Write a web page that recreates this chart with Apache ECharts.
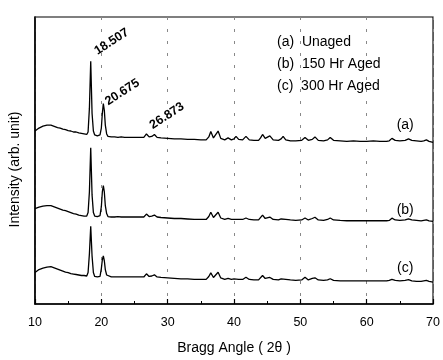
<!DOCTYPE html>
<html><head><meta charset="utf-8">
<script src="https://cdn.jsdelivr.net/npm/echarts@6/dist/echarts.min.js"></script>
<style>html,body{margin:0;padding:0;background:#fff}#c{width:443px;height:360px}</style>
</head><body><div id="c"></div>
<script>
// Intensity (arb. unit): [2θ, intensity]
const unaged = [[10,176],[10.3,177.5],[10.6,179],[10.9,179.5],[11.2,181],[11.5,181.5],[11.8,182],[12.1,181.5],[12.4,182],[12.7,181],[13.0,180.5],[13.4,179.5],[13.8,179],[14.2,178],[14.6,177.5],[15.0,176.5],[15.4,176],[15.8,175],[16.2,175],[16.6,174],[17.0,173.5],[17.4,173],[17.8,172.5],[18.0,175],[18.2,199],[18.4,247],[18.6,194],[18.8,176],[19.0,172],[19.4,171],[19.8,172],[20.0,179],[20.15,194],[20.3,204],[20.45,197],[20.6,182],[20.8,173],[21.0,170.5],[21.5,170],[22,170],[22.5,169.5],[23,170],[23.5,169.5],[24,169.5],[24.5,169.5],[25,169.5],[25.5,169.5],[26,169.5],[26.4,169.5],[26.8,173],[27.2,170],[27.6,170.5],[28.0,172.5],[28.4,169.5],[29,169],[30,168.5],[31,168],[32,168],[33,167.5],[34,167.5],[35,167],[35.8,167],[36.2,170],[36.5,175.5],[36.9,169],[37.2,170],[37.6,176],[38.0,168.5],[38.6,167],[39.1,169],[39.6,167],[40.0,168],[40.3,170.5],[40.7,167.5],[41.3,167],[41.8,170.5],[42.3,167],[43,166.5],[43.7,166.5],[44.0,169],[44.3,172.5],[44.7,168.5],[45.0,169],[45.4,171],[45.9,167],[46.7,166.5],[47.1,168],[47.4,170.5],[47.8,167],[48.5,166],[49.3,166],[50.2,166.5],[50.7,169.5],[51.2,166.5],[51.8,167.5],[52.2,170],[52.7,166.5],[53.5,166],[54.1,167],[54.5,169.5],[55.0,166.5],[56,166],[57,165.5],[58,166],[59,165.5],[60,165.5],[61,166],[62,165.5],[63,165.5],[63.4,166],[63.8,168.5],[64.3,166.5],[65,166],[65.8,166.5],[66.3,168],[66.8,166.5],[67.5,166],[68.2,165.5],[68.6,166],[69.0,167],[69.4,165.5],[70,164.5]];
const aged150 = [[10,97],[10.3,98],[10.6,98.5],[10.9,99],[11.2,99.5],[11.5,100],[11.8,100],[12.1,99.5],[12.4,100],[12.7,99],[13.0,98.5],[13.4,97.5],[13.8,96.5],[14.2,95.5],[14.6,95],[15.0,94],[15.4,93],[15.8,92],[16.2,91.5],[16.6,90.5],[17.0,90],[17.4,89.5],[17.8,89.5],[18.0,93],[18.2,114],[18.4,159],[18.6,111],[18.8,93],[19.0,89.5],[19.4,89],[19.8,90],[20.0,99],[20.15,114],[20.3,120.5],[20.45,114],[20.6,100],[20.8,92],[21.0,89],[21.5,88.5],[22,88.5],[22.5,89],[23,88.5],[23.5,88.5],[24,88.5],[24.5,88.5],[25,88.5],[25.5,88.5],[26,88.5],[26.4,88.5],[26.8,91.5],[27.2,89],[27.6,89.5],[28.0,90.5],[28.4,88.5],[29,88],[30,87.5],[31,87],[32,87],[33,86.5],[34,86],[35,86],[35.8,86],[36.2,89],[36.5,93.3],[36.9,88],[37.2,89],[37.6,93.3],[38.0,87.5],[38.6,86],[39.1,87],[39.6,86],[40.0,86],[40.3,87.5],[40.7,86],[41.3,86],[41.8,87.5],[42.3,86],[43,85.5],[43.7,85.5],[44.0,87.5],[44.3,90.5],[44.7,87],[45.0,87.5],[45.4,88.5],[45.9,86],[46.7,85.5],[47.1,86.5],[47.4,87.5],[47.8,86],[48.5,85.5],[49.3,85],[50.2,85.5],[50.7,87.5],[51.2,85.5],[51.8,87],[52.2,88.3],[52.7,85.5],[53.5,85],[54.1,86],[54.5,87.5],[55.0,85.5],[56,85],[57,84.7],[58,84.7],[59,84.7],[60,84.7],[61,84.7],[62,84.7],[63,84.7],[63.4,85],[63.8,87.3],[64.3,85.5],[65,85],[65.8,85.5],[66.3,86.5],[66.8,85.5],[67.5,85],[68.2,84.5],[68.6,85],[69.0,85.5],[69.4,84.5],[70,84]];
const aged300 = [[10,32],[10.3,33.5],[10.6,35],[10.9,36],[11.2,36.5],[11.5,37],[11.8,37.5],[12.1,37.5],[12.4,38],[12.7,37],[13.0,36.5],[13.4,35.5],[13.8,34.5],[14.2,33.5],[14.6,32.5],[15.0,32],[15.4,31],[15.8,30.5],[16.2,30],[16.6,29.5],[17.0,29],[17.4,29],[17.8,28.5],[18.0,32],[18.2,51],[18.4,79],[18.6,49],[18.8,32],[19.0,28],[19.4,27.5],[19.8,28],[20.0,36],[20.15,45],[20.3,49],[20.45,44],[20.6,35],[20.8,29.5],[21.0,27.5],[21.5,27.5],[22,27.5],[22.5,27.5],[23,27.5],[23.5,27.5],[24,27.5],[24.5,27.5],[25,27.5],[25.5,27.5],[26,27.5],[26.4,27.5],[26.8,30.7],[27.2,28],[27.6,28.5],[28.0,29.7],[28.4,27.5],[29,27],[30,26.5],[31,26],[32,25.5],[33,25.5],[34,25],[35,25],[35.8,25],[36.2,28],[36.5,31.7],[36.9,27],[37.2,28],[37.6,32.3],[38.0,26.5],[38.6,25],[39.1,26],[39.6,25],[40.0,25.5],[40.3,27.3],[40.7,25],[41.3,25],[41.8,27.3],[42.3,25],[43,24.5],[43.7,24.5],[44.0,26.5],[44.3,29],[44.7,26],[45.0,26.5],[45.4,27],[45.9,25],[46.7,24.5],[47.1,25.5],[47.4,26.3],[47.8,25],[48.5,24.5],[49.3,24],[50.2,24.5],[50.7,27.3],[51.2,24.5],[51.8,26],[52.2,26.7],[52.7,24.5],[53.5,24],[54.1,24.5],[54.5,25.7],[55.0,24],[56,23.5],[57,23.5],[58,23.5],[59,23.5],[60,23.5],[61,23.5],[62,23.5],[63,23.5],[63.4,24],[63.8,25],[64.3,24],[65,23.5],[65.8,24],[66.3,24.7],[66.8,23.5],[67.5,23],[68.2,23],[68.6,23.5],[69.0,24],[69.4,23],[70,22.3]];
const seriesNames = ['(a)  Unaged', '(b)  150 Hr Aged', '(c)  300 Hr Aged'];
const curveTags = ['(a)', '(b)', '(c)'];
const peakLabels = [['18.507', 18.4, 247], ['20.675', 20.3, 204], ['26.873', 26.8, 173]];
const xTicks = [10, 20, 30, 40, 50, 60, 70];

const font = 'Liberation Sans, Arial, sans-serif';
const peakOffsets = [[9, 1.5], [3, 7.3], [8, 2.5]];
const tagOffsets = [-15, -10, -12];
const datasets = [unaged, aged150, aged300];
const tagX = 65.8;

function tagPoint(data, i) {
  const p = data.find(d => d[0] === tagX);
  return {coord: [tagX, p[1]], value: curveTags[i],
    label: {show: true, position: 'inside', offset: [0, tagOffsets[i]], formatter: curveTags[i],
      fontSize: 14, fontFamily: font, color: '#000', align: 'center', verticalAlign: 'middle'}};
}

const series = datasets.map((data, i) => {
  const mp = [tagPoint(data, i)];
  if (i === 0) {
    peakLabels.forEach((pk, k) => {
      mp.push({coord: [pk[1], pk[2]], value: pk[0],
        label: {show: true, position: 'inside', offset: peakOffsets[k], formatter: pk[0], rotate: 33,
          align: 'left', verticalAlign: 'bottom', fontSize: 12.5, fontWeight: 'bold', fontFamily: font, color: '#000'}});
    });
  }
  return {
    name: seriesNames[i], type: 'line', data: data, symbol: 'none', smooth: false,
    lineStyle: {color: '#000', width: 1.3}, itemStyle: {color: '#000'},
    markPoint: {symbol: 'circle', symbolSize: 1, itemStyle: {color: 'rgba(0,0,0,0)'}, data: mp, animation: false}
  };
});

const chart = echarts.init(document.getElementById('c'), null, {renderer: 'canvas'});
chart.setOption({
  animation: false,
  backgroundColor: '#fff',
  grid: {left: 35, right: 9, top: 17, bottom: 51, show: true, borderColor: '#000', borderWidth: 1.2, backgroundColor: 'transparent'},
  legend: {data: seriesNames, orient: 'vertical', left: 272, top: 35, padding: 0, icon: 'none',
    itemWidth: 0, itemHeight: 14, itemGap: 8, textStyle: {fontSize: 14, fontFamily: font, color: '#000'}},
  xAxis: {type: 'value', min: 10, max: 70, interval: 10,
    name: 'Bragg Angle ( 2θ )', nameLocation: 'middle', nameGap: 37,
    nameTextStyle: {fontSize: 14, fontFamily: font, color: '#000'},
    axisLine: {show: true, lineStyle: {color: '#000', width: 1.5}},
    axisTick: {show: true, inside: true, length: 5, lineStyle: {color: '#000', width: 1.2}},
    minorTick: {show: true, splitNumber: 2, length: 3, lineStyle: {color: '#000', width: 1}},
    axisLabel: {fontSize: 12.5, fontFamily: font, color: '#000', margin: 12,
      formatter: v => xTicks.includes(v) ? String(v) : ''},
    splitLine: {show: true, lineStyle: {color: '#888', width: 1, type: [3, 9]}}
  },
  yAxis: {type: 'value', min: 0, max: 292,
    name: 'Intensity (arb. unit)', nameLocation: 'middle', nameGap: 13,
    nameTextStyle: {fontSize: 14, fontFamily: font, color: '#000', padding: [0, 18, 0, 0]},
    axisLine: {show: true, lineStyle: {color: '#000', width: 1.5}},
    axisTick: {show: false}, axisLabel: {show: false}, splitLine: {show: false}
  },
  series: series
});
</script>
</body></html>
